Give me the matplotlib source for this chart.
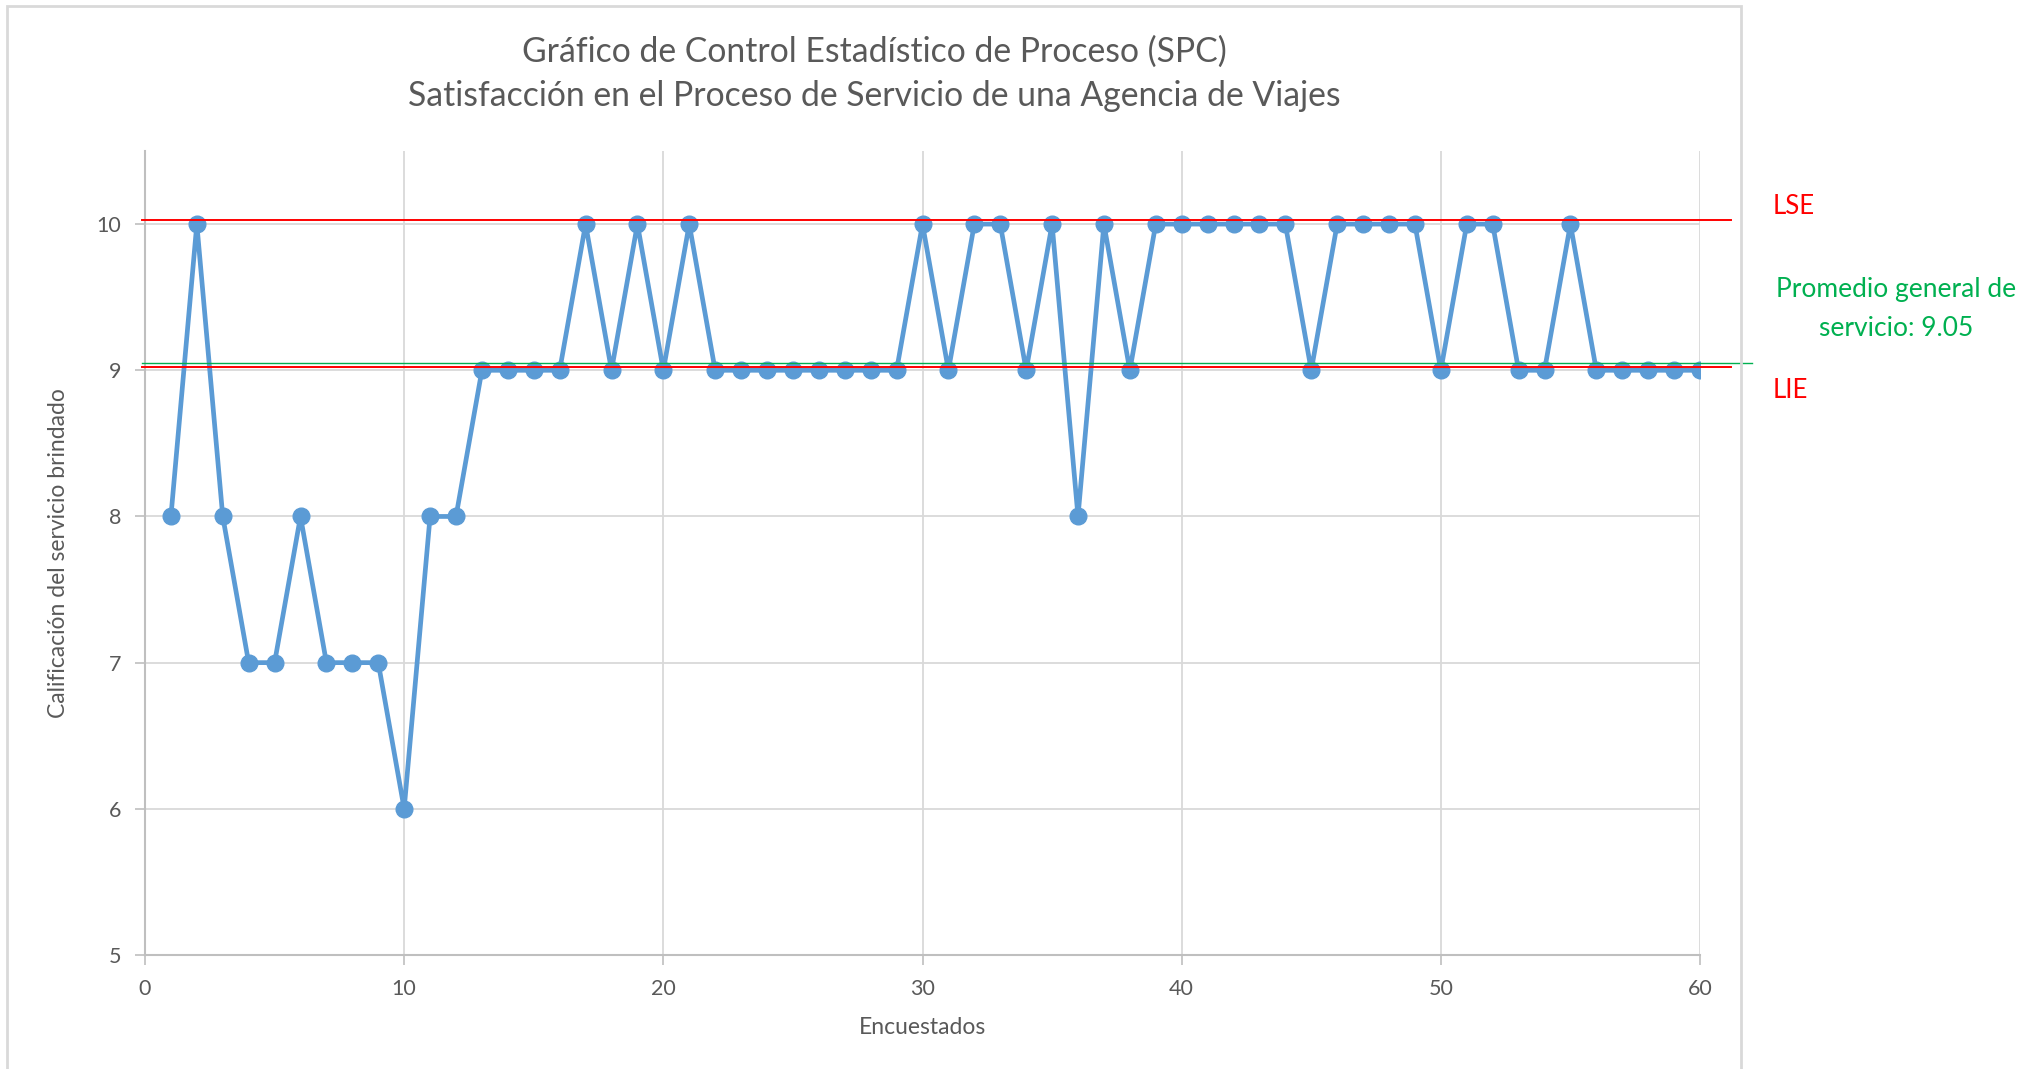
import matplotlib
matplotlib.use('Agg')
import matplotlib.pyplot as plt
from matplotlib.patches import Rectangle

# Encuestados 1..60 y su calificación
encuestados = list(range(1, 61))
calificacion = [8, 10, 8, 7, 7, 8, 7, 7, 7, 6,
                8, 8, 9, 9, 9, 9, 10, 9, 10, 9,
                10, 9, 9, 9, 9, 9, 9, 9, 9, 10,
                9, 10, 10, 9, 10, 8, 10, 9, 10, 10,
                10, 10, 10, 10, 9, 10, 10, 10, 10, 9,
                10, 10, 9, 9, 10, 9, 9, 9, 9, 9]
lse = 10.03
lie = 9.02
promedio = 9.05
x_ticks = [0, 10, 20, 30, 40, 50, 60]
y_ticks = [5, 6, 7, 8, 9, 10]

plt.rcParams['font.family'] = ['Lato', 'DejaVu Sans']
W, H = 2028, 1069
fig = plt.figure(figsize=(W / 100, H / 100), dpi=100)
ax = fig.add_axes([145 / W, 1 - 955 / H, (1700 - 145) / W, (955 - 151) / H])

# chart area border (excel style)
fig.patches.append(Rectangle((7 / W, -0.01), (1741 - 7) / W, 1 - 6 / H + 0.01,
                             transform=fig.transFigure, fill=False,
                             edgecolor='#D9D9D9', lw=2))

gray = '#595959'
ax.plot(encuestados, calificacion, '-o', color='#5B9BD5', lw=3.4, ms=12, zorder=3)

# control lines extend beyond the plot area
ax.plot([-0.1, 61.2], [lse, lse], color='#FF0000', lw=1.4, clip_on=False, zorder=4)
ax.plot([-0.1, 61.2], [lie, lie], color='#FF0000', lw=1.4, clip_on=False, zorder=4)
ax.plot([-0.1, 62.0], [promedio, promedio], color='#00B050', lw=1.0, clip_on=False, zorder=4)

ax.set_xlim(0, 60)
ax.set_ylim(5, 10.5)
ax.set_xticks(x_ticks)
ax.set_yticks(y_ticks)
ax.grid(True, color='#D9D9D9', lw=1.3)
ax.set_axisbelow(True)
for s in ['top', 'right']:
    ax.spines[s].set_visible(False)
for s in ['left', 'bottom']:
    ax.spines[s].set_color('#BFBFBF')
    ax.spines[s].set_linewidth(1.5)
ax.tick_params(colors='#BFBFBF', labelcolor=gray, labelsize=15.5, length=7, width=1.2)
ax.tick_params(axis='x', pad=10)
ax.tick_params(axis='y', pad=10)

ax.set_xlabel('Encuestados', fontsize=16.5, color=gray, labelpad=13)
ax.set_ylabel('Calificación del servicio brindado', fontsize=16.5, color=gray, labelpad=20)

fig.text(874 / W, 1 - 52 / H, 'Gráfico de Control Estadístico de Proceso (SPC)',
         ha='center', va='center', fontsize=24.3, color=gray)
fig.text(874 / W, 1 - 96 / H, 'Satisfacción en el Proceso de Servicio de una Agencia de Viajes',
         ha='center', va='center', fontsize=24.3, color=gray)

fig.text(1773 / W, 1 - 207 / H, 'LSE', ha='left', va='center', fontsize=18.5, color='#FF0000')
fig.text(1773 / W, 1 - 390 / H, 'LIE', ha='left', va='center', fontsize=18.5, color='#FF0000')
fig.text(1896 / W, 1 - 309 / H, 'Promedio general de\nservicio: 9.05', ha='center', va='center',
         fontsize=19, color='#00B050', linespacing=1.65)

fig.savefig('out.png', dpi=100, facecolor='white')
